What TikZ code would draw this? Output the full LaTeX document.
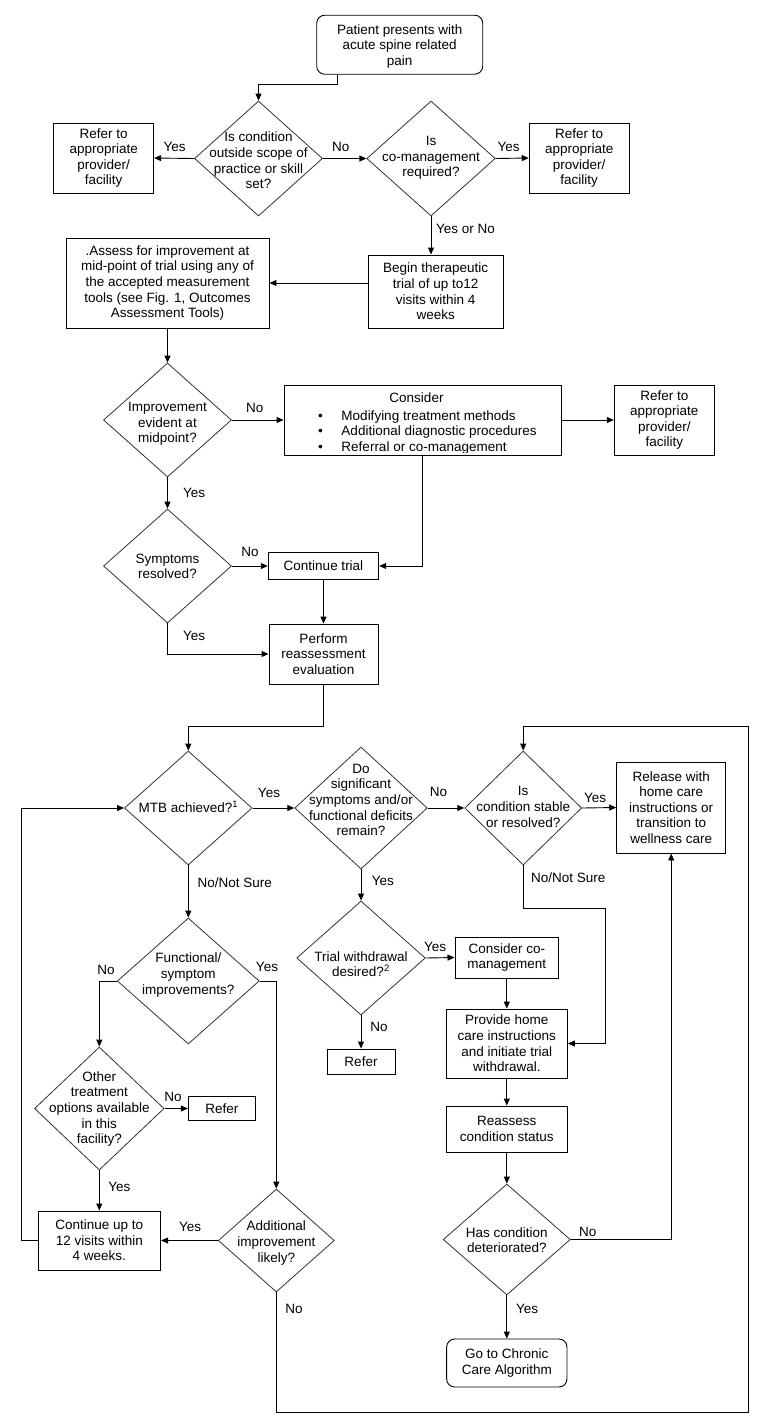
\documentclass[tikz,border=0pt]{standalone}
\usepackage{fontspec}
\setmainfont{Liberation Sans}
\usetikzlibrary{shapes.geometric,arrows.meta}
\begin{document}
\begin{tikzpicture}[x=1pt,y=-1pt,
  every node/.style={font=\fontsize{13.5}{15.6}\selectfont},
  box/.style={draw=black,line width=0.9pt,inner sep=0pt,align=center},
  rbox/.style={box,rounded corners=8pt},
  dia/.style={draw=black!80,line width=0.8pt,shape=diamond,inner sep=0pt},
  txt/.style={inner sep=0pt,align=center},
  lab/.style={inner sep=0pt},
  arr/.style={line width=0.9pt,-{Triangle[length=7pt,width=6pt]}}
]
\fill[white] (0,0) rectangle (767,1428);
\useasboundingbox (0,0) rectangle (767,1428);

% ---- nodes ----
\node[rbox,minimum width=166pt,minimum height=59pt] (start) at (399.7,44.7) {};
\node[txt] (startt) at (399.7,46.5) {Patient presents with\\acute spine related\\pain};
\node[dia,minimum width=128pt,minimum height=115pt] (d1) at (258.5,158.5) {};
\node[txt] (d1t) at (258.5,160.5) {Is condition\\outside scope of\\practice or skill\\set?};
\node[box,minimum width=100pt,minimum height=70pt] (ref1) at (103.7,158) {Refer to\\appropriate\\provider/\\facility};
\node[dia,minimum width=128.5pt,minimum height=115pt] (d2) at (431,158.5) {};
\node[txt] (d2t) at (431,158) {Is\\co-management\\required?};
\node[box,minimum width=100pt,minimum height=70pt] (ref2) at (579.2,158) {Refer to\\appropriate\\provider/\\facility};
\node[box,minimum width=135pt,minimum height=73pt] (begin) at (435.7,291.5) {Begin therapeutic\\trial of up to12\\visits within 4\\weeks};
\node[box,minimum width=203pt,minimum height=90pt] (assess) at (167.5,283) {.Assess for improvement at\\mid-point of trial using any of\\the accepted measurement\\tools (see Fig. 1, Outcomes\\Assessment Tools)};
\node[dia,minimum width=128pt,minimum height=114pt] (d3) at (167.5,420) {};
\node[txt] (d3t) at (167.5,424) {Improvement\\evident at\\midpoint?};
\node[box,minimum width=277pt,minimum height=70pt] (consider) at (422.5,420) {};
\node[txt] (cons1) at (416.5,397.5) {Consider};
\begin{scope}
\clip (consider.north west) rectangle ([yshift=3pt]consider.south east);
\node[txt,align=left,anchor=west] (cons2) at (317.8,432.5) {\makebox[23.5pt][l]{\textbullet}Modifying treatment methods\\\makebox[23.5pt][l]{\textbullet}Additional diagnostic procedures\\\makebox[23.5pt][l]{\textbullet}Referral or co-management};
\end{scope}
\node[box,minimum width=100pt,minimum height=70pt] (ref3) at (664.3,420) {Refer to\\appropriate\\provider/\\facility};
\node[dia,minimum width=128pt,minimum height=114pt] (d4) at (167.5,566) {};
\node[txt] (d4t) at (167.5,566.5) {Symptoms\\resolved?};
\node[box,minimum width=110.5pt,minimum height=27pt] (cont) at (323.5,566) {Continue trial};
\node[box,minimum width=109pt,minimum height=60pt] (perform) at (323.5,654) {Perform\\reassessment\\evaluation};
\node[dia,minimum width=127.6pt,minimum height=114pt] (mtb) at (188.3,808) {};
\node[txt] (mtbt) at (188.3,807) {MTB achieved?\textsuperscript{1}};
\node[dia,minimum width=132.5pt,minimum height=122pt] (dodi) at (361,808) {};
\node[txt] (dodit) at (361,800) {Do\\significant\\symptoms and/or\\functional deficits\\remain?};
\node[dia,minimum width=117pt,minimum height=114pt] (stable) at (523.2,808) {};
\node[txt] (stablet) at (523.2,807) {Is\\condition stable\\or resolved?};
\node[box,minimum width=109pt,minimum height=91pt] (release) at (671.2,807.5) {Release with\\home care\\instructions or\\transition to\\wellness care};
\node[dia,minimum width=142pt,minimum height=126pt] (func) at (188.3,981) {};
\node[txt] (funct) at (188.3,975) {Functional/\\symptom\\improvements?};
\node[dia,minimum width=128.6pt,minimum height=114pt] (trial) at (361,958) {};
\node[txt] (trialt) at (361,964) {Trial withdrawal\\desired?\textsuperscript{2}};
\node[box,minimum width=103.7pt,minimum height=41pt] (cocm) at (506.8,957.5) {Consider co-\\management};
\node[box,minimum width=121.3pt,minimum height=69pt] (provide) at (506.8,1043.5) {Provide home\\care instructions\\and initiate trial\\withdrawal.};
\node[box,minimum width=68pt,minimum height=25pt] (refer2) at (361,1061.5) {Refer};
\node[dia,minimum width=129.6pt,minimum height=123pt] (other) at (99.3,1108.5) {};
\node[txt] (othert) at (99.3,1109) {Other\\treatment\\options available\\in this\\facility?};
\node[box,minimum width=67pt,minimum height=24pt] (refer3) at (221.8,1108.5) {Refer};
\node[box,minimum width=122.7pt,minimum height=59pt] (contup) at (99.3,1240.5) {Continue up to\\12 visits within\\4 weeks.};
\node[dia,minimum width=116pt,minimum height=103pt] (addl) at (276.3,1240.5) {};
\node[txt] (addlt) at (276.3,1243) {Additional\\improvement\\likely?};
\node[box,minimum width=120.7pt,minimum height=46pt] (reassess) at (506.8,1129) {Reassess\\condition status};
\node[dia,minimum width=127.2pt,minimum height=111pt] (has) at (506.8,1239.5) {};
\node[txt] (hast) at (506.8,1240) {Has condition\\deteriorated?};
\node[rbox,minimum width=120.3pt,minimum height=48pt] (goto) at (506.8,1363) {Go to Chronic\\Care Algorithm};

% ---- bend coordinates ----
\coordinate (lb) at (748.2,1412);
\coordinate (lt) at (748.2,726);
\coordinate (nb) at (605.4,908);
\coordinate (lc) at (21.5,808);

% ---- connectors ----
\draw[arr] ([xshift=-62.4pt]start.south) -- ++(0,10) -| (d1.north);
\draw[arr] (d1.west) -- (ref1.east);
\draw[arr] (d1.east) -- (d2.west);
\draw[arr] (d2.east) -- (ref2.west);
\draw[arr] (d2.south) -- (d2.south |- begin.north);
\draw[arr] (begin.west |- assess.east) -- (assess.east);
\draw[arr] (assess.south) -- (d3.north);
\draw[arr] (d3.east) -- (consider.west);
\draw[arr] (consider.east) -- (ref3.west);
\draw[arr] (consider.south) |- (cont.east);
\draw[arr] (d3.south) -- (d4.north);
\draw[arr] (d4.east) -- (cont.west);
\draw[arr] (cont.south) -- (perform.north);
\draw[arr] (d4.south) |- (perform.west);
\draw[arr] (perform.south) -- ++(0,42) -| (mtb.north);
\draw[arr] (mtb.east) -- (dodi.west);
\draw[arr] (dodi.east) -- (stable.west);
\draw[arr] (stable.east) -- (release.west);
\draw[arr] (addl.south) |- (lb) -- (lt) -| (stable.north);
\draw[arr] (stable.south) |- (nb) |- (provide.east);
\draw[arr] (has.east) -| (release.south);
\draw[arr] (mtb.south) -- (func.north);
\draw[arr] (func.west) -| (other.north);
\draw[arr] (func.east) -| (addl.north);
\draw[arr] (dodi.south) -- (trial.north);
\draw[arr] (trial.east) -- (cocm.west);
\draw[arr] (cocm.south) -- (provide.north);
\draw[arr] (trial.south) -- (refer2.north);
\draw[arr] (other.east) -- (refer3.west);
\draw[arr] (other.south) -- (contup.north);
\draw[arr] (contup.west) -| (lc) -- (mtb.west);
\draw[arr] (addl.west) -- (contup.east);
\draw[arr] (provide.south) -- (reassess.north);
\draw[arr] (reassess.south) -- (has.north);
\draw[arr] (has.south) -- (goto.north);

% ---- labels ----
\node[lab] (l1) at (174.6,147) {Yes};
\node[lab] (l2) at (340.8,147) {No};
\node[lab] (l3) at (508.6,147) {Yes};
\node[lab] (l4) at (465.5,229) {Yes or No};
\node[lab] (l5) at (254.8,408) {No};
\node[lab] (l6) at (194.1,493) {Yes};
\node[lab] (l7) at (249.9,552) {No};
\node[lab] (l8) at (194.1,636) {Yes};
\node[lab] (l9) at (269,793) {Yes};
\node[lab] (l10) at (438.6,792) {No};
\node[lab] (l11) at (595.1,798) {Yes};
\node[lab] (l12) at (234.7,883) {No/Not Sure};
\node[lab] (l13) at (568.2,878) {No/Not Sure};
\node[lab] (l14) at (382.9,881) {Yes};
\node[lab] (l15) at (435.2,947) {Yes};
\node[lab] (l16) at (106.1,970) {No};
\node[lab] (l17) at (267,967) {Yes};
\node[lab] (l18) at (379,1027) {No};
\node[lab] (l19) at (173.1,1097) {No};
\node[lab] (l20) at (119.3,1187) {Yes};
\node[lab] (l21) at (190.2,1227) {Yes};
\node[lab] (l22) at (293.9,1309) {No};
\node[lab] (l23) at (587.8,1232) {No};
\node[lab] (l24) at (527.1,1309) {Yes};
\end{tikzpicture}
\end{document}
